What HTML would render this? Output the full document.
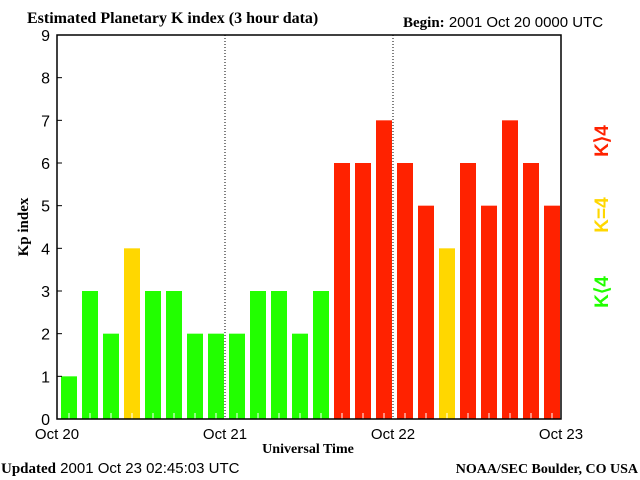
<!DOCTYPE html>
<html><head><meta charset="utf-8"><style>
body{margin:0;background:#fff;}
svg{display:block;font-family:"Liberation Sans",sans-serif;}
.serif{font-family:"Liberation Serif",serif;font-weight:bold;}
</style></head><body>
<svg id="chart" width="640" height="480">
<text class="serif" x="27" y="23" font-size="16">Estimated Planetary K index (3 hour data)</text>
<text x="403" y="27" font-size="15"><tspan class="serif">Begin:</tspan> 2001 Oct 20 0000 UTC</text>
<text x="1" y="473" font-size="15"><tspan class="serif">Updated</tspan> 2001 Oct 23 02:45:03 UTC</text>
<text class="serif" x="638" y="473" font-size="14" text-anchor="end">NOAA/SEC Boulder, CO USA</text>
<text class="serif" x="308" y="453" font-size="14" text-anchor="middle">Universal Time</text>
<text class="serif" x="0" y="0" font-size="15" text-anchor="middle" transform="translate(28,227) rotate(-90)">Kp index</text>
<text x="0" y="0" font-size="19" font-weight="bold" fill="#22ff00" text-anchor="middle" transform="translate(608,292) rotate(-90)">K⟨4</text>
<text x="0" y="0" font-size="19" font-weight="bold" fill="#ffd700" text-anchor="middle" transform="translate(608,215) rotate(-90)">K=4</text>
<text x="0" y="0" font-size="19" font-weight="bold" fill="#ff2200" text-anchor="middle" transform="translate(608,141) rotate(-90)">K⟩4</text>
<g id="bars"></g>
<g id="axes"></g>
</svg>
<script>
const kpValues=[1,3,2,4,3,3,2,2,2,3,3,2,3,6,6,7,6,5,4,6,5,7,6,5];
const yTicks=[0,1,2,3,4,5,6,7,8,9];
const dayLabels=["Oct 20","Oct 21","Oct 22","Oct 23"];
const NS="http://www.w3.org/2000/svg";
const X0=57,X1=561,Y0=419,Y9=35;
const slotW=(X1-X0)/kpValues.length;
function xs(i){return X0+i*slotW;}
function ys(v){return Y0-v*(Y0-Y9)/9;}
function mk(t,a,p){const e=document.createElementNS(NS,t);for(const k in a)e.setAttribute(k,a[k]);p.appendChild(e);return e;}
const bars=document.getElementById('bars'),axes=document.getElementById('axes');
kpValues.forEach((v,i)=>{
  const c=v<4?'#22ff00':(v==4?'#ffd700':'#ff2200');
  const r=mk('rect',{x:xs(i)+4,y:ys(v),width:16,height:Y0-ys(v),fill:c},bars);
  
  
  const t=mk('line',{x1:xs(i)+12,x2:xs(i)+12,y1:Y0,y2:Y0-6,stroke:'#fff'},bars);
  
  
});
const frame=mk('rect',{x:X0,y:Y9,width:X1-X0,height:Y0-Y9,fill:'none',stroke:'#000','stroke-width':1.5},axes);


yTicks.forEach(v=>{
  const l=mk('line',{x1:X0,x2:X0+5,y1:ys(v),y2:ys(v),stroke:'#000'},axes);
  
  
  const t=mk('text',{x:50,y:ys(v)+6,'font-size':16,'text-anchor':'end'},axes);
  t.textContent=v;
  
  
});
dayLabels.forEach((d,i)=>{
  const x=xs(i*8);
  const t=mk('text',{x:x,y:439,'font-size':15,'text-anchor':'middle'},axes);
  t.textContent=d;
  
  
  if(i>0&&i<dayLabels.length-1){
    const l=mk('line',{x1:x,x2:x,y1:Y9,y2:Y0,stroke:'#000','stroke-dasharray':'1,2'},axes);
    
    
  }
});
</script>
</body></html>
